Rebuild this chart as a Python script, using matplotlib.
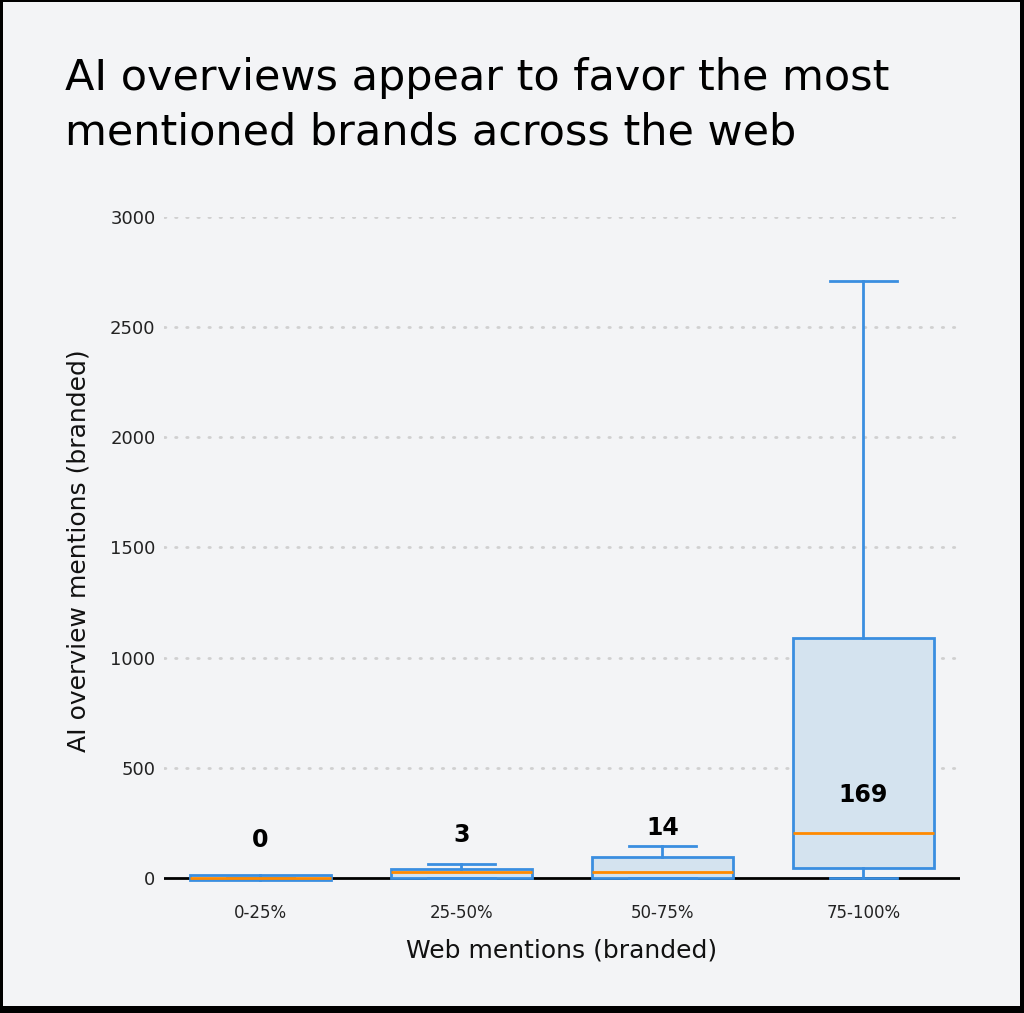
import matplotlib.pyplot as plt
from matplotlib.patches import Rectangle

# data
categories = ['0-25%', '25-50%', '50-75%', '75-100%']
q1 = [-8, 0, 0, 45]
medians = [0, 25, 25, 204]
q3 = [12, 40, 95, 1089]
whis_lo = [0, 0, 0, 0]
whis_hi = [0, 64, 145, 2710]
labels = ['0', '3', '14', '169']
label_y = [172, 195, 227, 377]   # where the value labels sit

yticks = [0, 500, 1000, 1500, 2000, 2500, 3000]

bg = '#f3f4f6'
blue = '#3a8ee0'
fill = '#d4e3ef'
orange = '#ff8a00'

fig = plt.figure(figsize=(10.24, 10.13), dpi=100)
fig.patch.set_facecolor('black')
# light panel inside the black frame
fig.patches.append(Rectangle((3 / 1024, 7 / 1013), 1017 / 1024, 1004 / 1013,
                             transform=fig.transFigure, facecolor=bg,
                             edgecolor='none', zorder=-10))

ax = fig.add_axes([0.160, 0.1268, 0.7775, 0.659])
ax.set_facecolor(bg)

stats = []
for i in range(len(categories)):
    stats.append({'q1': q1[i], 'med': medians[i], 'q3': q3[i],
                  'whislo': whis_lo[i], 'whishi': whis_hi[i], 'fliers': []})

ax.bxp(stats, positions=range(len(categories)), widths=0.7, capwidths=0.33,
       patch_artist=True, showfliers=False,
       boxprops=dict(facecolor=fill, edgecolor=blue, linewidth=2),
       whiskerprops=dict(color=blue, linewidth=2),
       capprops=dict(color=blue, linewidth=2),
       medianprops=dict(color=orange, linewidth=2), zorder=3)

for i, txt in enumerate(labels):
    ax.text(i, label_y[i], txt, ha='center', va='center', fontsize=17,
            fontweight='bold', color='black', zorder=5)

ax.axhline(0, color='black', linewidth=2, zorder=1)
for t in yticks[1:]:
    ax.axhline(t, color='#d0d0d0', linewidth=2, linestyle=(0, (0.5, 3.5)),
               dash_capstyle='round', zorder=0)

ax.set_xlim(-0.48, 3.48)
ax.set_ylim(-30, 3000)
ax.set_yticks(yticks)
ax.set_yticklabels([str(t) for t in yticks])
ax.set_xticks(range(len(categories)))
ax.set_xticklabels(categories)
ax.tick_params(length=0, colors='#222222')
ax.tick_params(axis='y', pad=6, labelsize=13)
ax.tick_params(axis='x', pad=14, labelsize=12)
for s in ax.spines.values():
    s.set_visible(False)

ax.set_xlabel('Web mentions (branded)', fontsize=18, labelpad=12, color='#111111')
ax.set_ylabel('AI overview mentions (branded)', fontsize=18, labelpad=14, color='#111111')

fig.text(65 / 1024, 1 - 57 / 1013,
         'AI overviews appear to favor the most\nmentioned brands across the web',
         ha='left', va='top', fontsize=31, color='black', linespacing=1.38)

fig.savefig('out.png', dpi=100, facecolor=fig.get_facecolor())
